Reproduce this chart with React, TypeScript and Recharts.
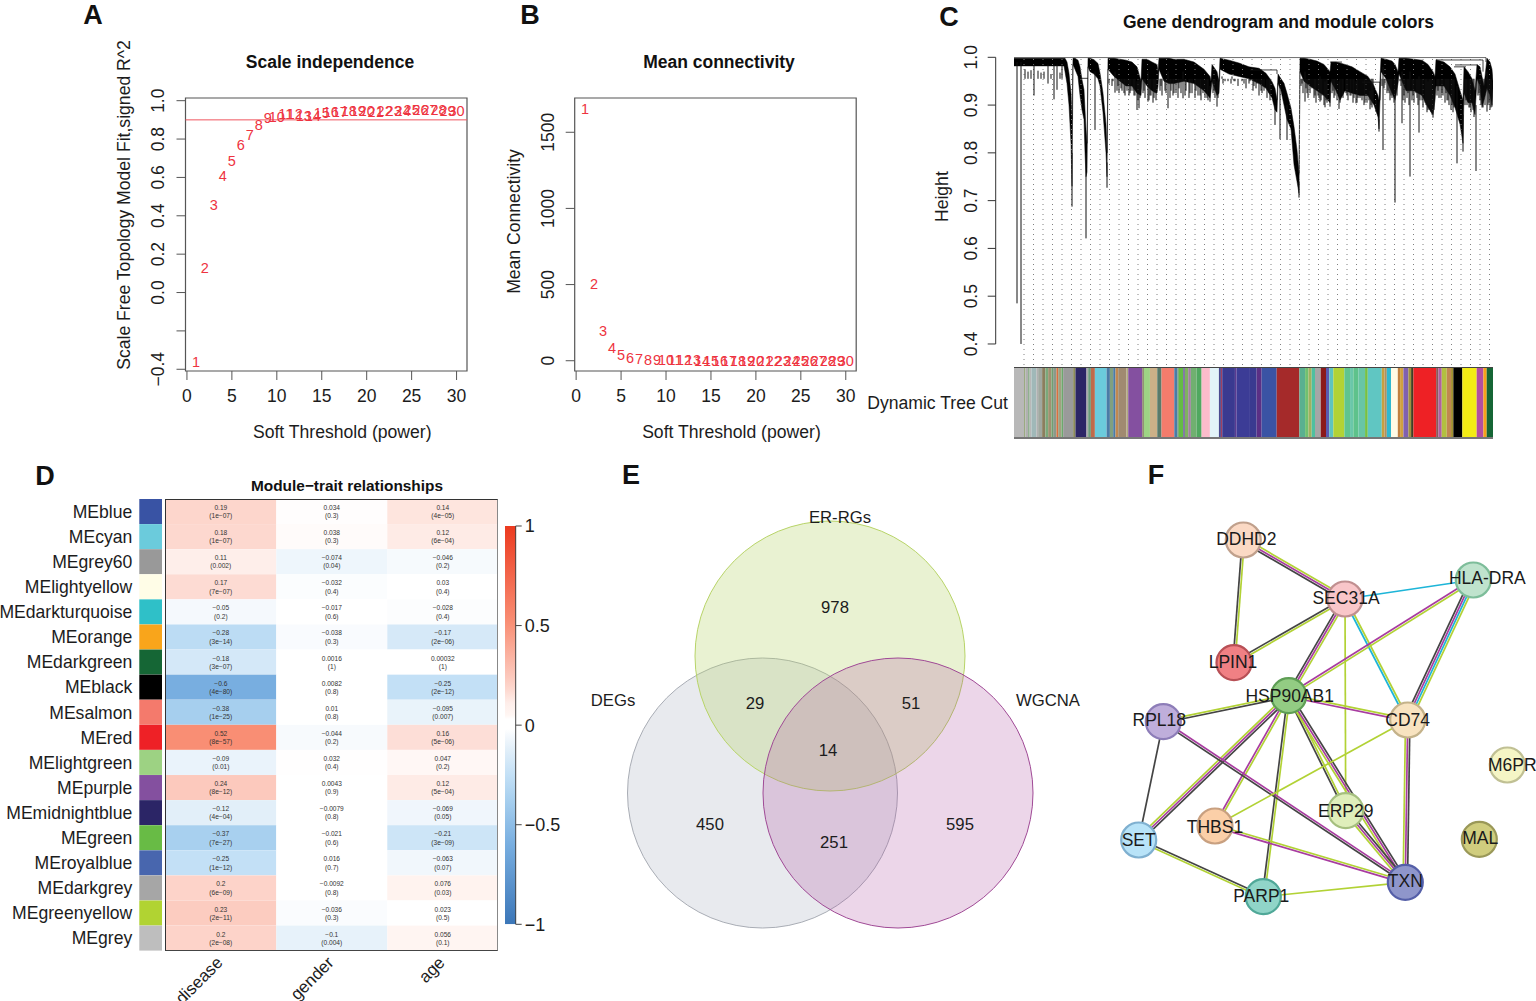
import React from 'react';
import {
  ScatterChart, Scatter, XAxis, YAxis, ReferenceLine, ReferenceArea, ComposedChart, Area, Line, BarChart, Bar,
} from 'recharts';

const FONT = '"Liberation Sans", Arial, sans-serif';
const RED = '#ee3340';
const AXIS = '#555';
const INK = '#1c1c1c';

// ---------- A / B ----------
const powers = [1,2,3,4,5,6,7,8,9,10,11,12,13,14,15,16,17,18,19,20,21,22,23,24,25,26,27,28,29,30];
const fitR2 = [-0.36,0.13,0.457,0.61,0.686,0.77,0.82,0.873,0.909,0.913,0.93,0.932,0.918,0.922,0.935,0.94,0.94,0.945,0.945,0.945,0.94,0.945,0.947,0.947,0.95,0.95,0.952,0.952,0.945,0.947];
const meanK = [1654,503,192,81,39,18,10,6,4,3,2,2,2,1,1,1,1,1,1,1,1,1,1,1,1,1,1,1,1,1];
const powerTicks = [0,5,10,15,20,25,30];
const fitTicks = [-0.4,-0.2,0,0.2,0.4,0.6,0.8,1];
const fitTickLabels = ['\u22120.4','','0.0','0.2','0.4','0.6','0.8','1.0'];
const kTicks = [0,500,1000,1500];

// ---------- C ----------
const dendroRows = [
[0,.998,.982],[50,.998,.982],
[51,.998,.97],[53,.99,.945],[55,.9665,.90],[57,.925,.82],[58,.87,.73],
[59,.998,.985],[61,.998,.975],[64,.994,.96],[66,.98,.92],[68,.953,.89],[70,.932,.87],[71,.89,.80],[72,.85,.75],[73,.82,.76],
[74,.998,.98],[76,.998,.97],[80,.995,.965],[84,.987,.955],[86,.967,.94],[89,.925,.885],[92,.86,.80],[93,.80,.75],
[94,.998,.975],[100,.998,.96],[106,.996,.95],[112,.994,.94],[118,.99,.94],[123,.98,.925],[127,.95,.92],
[128,.996,.955],[133,.996,.94],[138,.99,.93],[143,.985,.925],[144,.97,.94],
[145,.998,.975],[150,.998,.95],[155,.998,.945],[160,.996,.945],[170,.996,.95],[180,.99,.945],[190,.975,.93],[196,.96,.915],[197,.95,.93],
[198,.985,.95],[203,.97,.92],[205,.95,.925],
[206,.998,.975],[215,.994,.965],[225,.988,.96],[235,.98,.955],[245,.977,.945],[252,.9665,.935],[258,.949,.915],[261,.935,.89],[263,.911,.885],
[264,.965,.945],[267,.955,.93],[270,.9456,.90],[273,.9246,.87],[277,.8933,.85],[280,.855,.775],[283,.806,.74],[285,.757,.715],
[286,.998,.97],[290,.998,.95],[296,.996,.94],[303,.992,.93],[310,.985,.92],[316,.97,.905],
[317,.99,.95],[322,.99,.93],[326,.988,.91],[331,.985,.93],[338,.98,.925],[346,.97,.92],[354,.96,.92],[360,.94,.90],[364,.92,.875],[365,.91,.85],
[367,.998,.97],[372,.996,.955],[378,.992,.925],[381,.985,.91],[384,.97,.945],
[385,.998,.965],[392,.998,.93],[400,.996,.93],[408,.994,.92],[414,.985,.895],[419,.97,.88],[421,.96,.91],
[422,.995,.94],[430,.99,.94],[436,.98,.92],[441,.965,.895],[446,.93,.86],[449,.91,.82],
[450,.98,.925],[454,.97,.905],[458,.955,.905],[461,.93,.88],
[463,.985,.955],[466,.98,.94],[468,.96,.895],[470,.94,.91],
[473,.998,.935],[476,.99,.92],[478,.975,.90],[479,.95,.935],
];
const dendroData = dendroRows.map(([rank, top, low]) => ({ rank, range: [low, top] }));
const deepSpikes = [[3,.99,.485],[7,.99,.40],[20,.985,.92],[34,.985,.945],[40,.985,.912],[43,.985,.932],[48,.985,.955],[58,.80,.6875],[72,.80,.621],[81,.97,.848],[93,.78,.727],[101,.97,.926],[123,.95,.8898],[125,.95,.8933],[134,.97,.9072],[154,.97,.8933],[169,.97,.9142],[196,.94,.907],[203,.95,.8967],[261,.90,.8584],[266,.94,.8284],[273,.90,.827],[285,.74,.7064],[291,.97,.9072],[306,.96,.9072],[311,.95,.8953],[316,.93,.8967],[325,.95,.892],[342,.95,.9037],[356,.93,.8912],[362,.91,.886],[365,.87,.8445],[369,.98,.806],[381,.96,.696],[388,.97,.862],[396,.97,.7503],[405,.96,.8424],[414,.95,.8898],[419,.93,.8737],[443,.94,.778],[449,.88,.8026],[462,.90,.762],[473,.97,.8863],[478,.95,.8967]];
const fringeTips = [[11,.975],[14,.97],[17,.973],[24,.972],[27,.968],[30,.97],[37,.965],[46,.968],[96,.955],[99,.95],[104,.94],[107,.935],[110,.925],[113,.93],[116,.925],[119,.93],[121,.92],[126,.915],[130,.93],[136,.92],[140,.915],[141,.925],[147,.94],[151,.93],[157,.93],[160,.925],[165,.935],[172,.93],[176,.925],[182,.93],[186,.92],[189,.925],[193,.915],[200,.93],[204,.915],[208,.96],[212,.955],[218,.96],[221,.95],[226,.955],[230,.945],[236,.95],[240,.94],[243,.945],[248,.925],[250,.93],[255,.925],[288,.945],[293,.925],[298,.935],[301,.92],[305,.915],[308,.92],[313,.905],[319,.93],[321,.92],[328,.92],[333,.92],[336,.92],[340,.915],[344,.915],[348,.91],[351,.905],[358,.895],[371,.945],[375,.925],[377,.92],[386,.95],[390,.92],[394,.925],[399,.92],[402,.925],[408,.91],[411,.905],[416,.89],[424,.93],[428,.925],[432,.925],[434,.91],[438,.90],[440,.895],[452,.91],[456,.895],[459,.89],[465,.925],[467,.90],[469,.895],[475,.905],[477,.895],
[95,.945],[98,.94],[103,.93],[105,.925],[108,.93],[111,.92],[115,.92],[117,.93],[120,.92],[124,.91],[129,.925],[131,.915],[135,.91],[137,.92],[139,.905],[142,.91],[146,.93],[148,.92],[152,.925],[156,.915],[159,.92],[162,.925],[164,.915],[167,.925],[171,.92],[175,.915],[178,.925],[181,.915],[184,.92],[187,.91],[191,.915],[194,.91],[199,.925],[201,.915],[209,.945],[211,.95],[214,.95],[217,.945],[220,.95],[224,.94],[228,.95],[232,.935],[235,.945],[239,.93],[242,.935],[245,.92],[247,.93],[253,.915],[256,.91],[287,.94],[289,.925],[292,.935],[294,.915],[296,.925],[300,.915],[302,.905],[304,.92],[307,.91],[310,.9],[312,.91],[318,.925],[320,.915],[323,.91],[326,.905],[329,.915],[332,.925],[334,.91],[337,.92],[339,.905],[343,.905],[346,.915],[350,.9],[353,.905],[355,.91],[357,.9],[359,.905],[368,.94],[370,.935],[373,.925],[374,.93],[376,.91],[378,.915],[380,.905],[383,.92],[387,.94],[389,.91],[391,.905],[393,.915],[395,.9],[398,.91],[400,.905],[403,.915],[404,.9],[406,.91],[409,.895],[412,.9],[413,.885],[415,.9],[417,.885],[418,.88],[420,.89],[423,.92],[425,.915],[427,.915],[429,.92],[431,.905],[433,.91],[435,.9],[437,.89],[439,.885],[451,.9],[453,.9],[455,.895],[457,.885],[460,.875],[464,.92],[466,.91],[471,.9],[474,.9],[476,.89]];
const spikeLines = deepSpikes.flatMap(([rank, start, low]) => [{ rank, h: start }, { rank, h: low }, { rank, h: null }]);
const fringeLines = fringeTips.flatMap(([rank, low]) => [{ rank, h: .955 }, { rank, h: low }, { rank, h: null }]);
const linkPaths = [
  [[0,.9995],[472,.9995],[472,.99]],
  [[236,.9735],[263,.9735],[263,.965]],
  [[316,.99],[328,.99]],
  [[348,.948],[366,.948],[366,.91]],
  [[422,.9944],[469,.9944],[469,.97]],
  [[440,.98],[452,.98]],
  [[441,.984],[463,.984]],
  [[66,.956],[74,.956]],
];
const dendroLinks = linkPaths.flatMap((path) => [...path.map(([rank, h]) => ({ rank, h })), { rank: path[0][0], h: null }]);
const guideRanks = [10,19.5,29,38.5,48,57.5,67,76.5,86,95.5,105,114.5,124,133.5,143,152.5,162,171.5,181,190.5,200,209.5,219,228.5,238,247.5,257,266.5,276,285.5,295,304.5,314,323.5,333,342.5,352,361.5,371,380.5,390,399.5,409,418.5,428,437.5,447,456.5,466,475.5];
const heightTicks = [0.4,0.5,0.6,0.7,0.8,0.9,1];

const moduleSegColors = ['#b8b8b8','#9aab80','#b0b0b0','#8fb08f','#b8b8b8','#a0b8b8','#b0b0b0','#a0a8a0','#8b7e5e','#7aa87a','#a09070','#70a070','#8a9a8a','#d87040','#a0a080','#6da86d','#9a9a9a','#8a8a5a','#2c2566','#aaaaaa','#6a9a7a','#c06a4a','#6bcbdc','#4a7ba6','#80a080','#4a7ba6','#c08850','#a08a70','#b0a880','#8450a0','#8a8a6a','#9ed485','#ccb088','#5a7a6a','#f47c6c','#4a7ba6','#70a070','#65bb45','#7060a0','#80b060','#a080a0','#70b070','#50a860','#fbbccb','#e2f3f8','#4a4a90','#a04060','#3a3a90','#5a3a90','#3c3c96','#3a3a90','#5b2f85','#3a53a4','#a52a2a','#5ab090','#70c070','#a0b060','#4fc0a0','#a6a6a6','#8b1a1a','#5a5ab0','#5fc4be','#b2d235','#5fc48f','#6ac7a9','#5ec28b','#68c5a5','#77c043','#60c6c2','#c8a040','#b09060','#30b8d0','#fffbe6','#c08040','#d0a040','#8060b0','#a09040','#404020','#ee2125','#8a5a5a','#b060a0','#b2c040','#c08850','#a09030','#000000','#f3ec14','#b34fa0','#f7a11a','#156635'];
const moduleSegSizes = [10,1.3,2.7,1.7,1.7,5,1.7,4,3.3,2.7,3.3,1.7,3.3,1.7,3.3,1.7,10,2.3,11,1.7,2.7,4,11.7,3.3,3.3,2.3,2.7,8.3,1.7,14,1.7,6,7.3,4.3,12.7,3.3,1.3,4.3,1.7,3.3,2.7,5.7,5,8.3,9,2,1.3,12.7,1.7,13.3,6.7,5,15,22.7,5.7,3.3,3.3,3.3,5.7,5.3,3.3,4,11,5.7,3.3,5,6.7,2.7,14,2.7,2.3,4.3,6.7,2.3,3.3,5,2.7,2.3,22.7,2.3,3.3,5,4.3,2.3,9,14.3,6.7,3.3,6.7];
const moduleRow: any = { name: 'Dynamic Tree Cut' };
moduleSegSizes.forEach((s, i) => { moduleRow['s' + i] = s; });

// ---------- D ----------
const moduleNames = ['MEblue','MEcyan','MEgrey60','MElightyellow','MEdarkturquoise','MEorange','MEdarkgreen','MEblack','MEsalmon','MEred','MElightgreen','MEpurple','MEmidnightblue','MEgreen','MEroyalblue','MEdarkgrey','MEgreenyellow','MEgrey'];
const moduleSwatches = ['#3953a4','#6bcbdc','#999999','#fffde7','#2fc0c8','#f9a51b','#156635','#000000','#f47a6c','#ee2126','#9dd283','#84509f','#2b2566','#68bb45','#4866ae','#a6a6a6','#b1d332','#bebebe'];
const traits = ['disease','gender','age'];
const corDisease = [0.19,0.18,0.11,0.17,-0.05,-0.28,-0.18,-0.6,-0.38,0.52,-0.09,0.24,-0.12,-0.37,-0.25,0.2,0.23,0.2];
const pDisease = ['1e−07','1e−07','0.002','7e−07','0.2','3e−14','3e−07','4e−80','1e−25','8e−57','0.01','8e−12','4e−04','7e−27','1e−12','6e−09','2e−11','2e−08'];
const corGender = [0.034,0.038,-0.074,-0.032,-0.017,-0.038,0.0016,0.0082,0.01,-0.044,0.032,0.0043,-0.0079,-0.021,0.016,-0.0092,-0.036,-0.1];
const pGender = ['0.3','0.3','0.04','0.4','0.6','0.3','1','0.8','0.8','0.2','0.4','0.9','0.8','0.6','0.7','0.8','0.3','0.004'];
const corAge = [0.14,0.12,-0.046,0.03,-0.028,-0.17,0.00032,-0.25,-0.095,0.16,0.047,0.12,-0.069,-0.21,-0.063,0.076,0.023,0.056];
const pAge = ['4e−05','6e−04','0.2','0.4','0.4','2e−06','1','2e−12','0.007','5e−06','0.2','5e−04','0.05','3e−09','0.07','0.03','0.5','0.1'];
const heatRows = moduleNames.map((name, i) => ({
  name, swatch: 1, disease: 1, gender: 1, age: 1,
  cor: { disease: corDisease[i], gender: corGender[i], age: corAge[i] },
  p: { disease: pDisease[i], gender: pGender[i], age: pAge[i] },
  color: moduleSwatches[i],
}));
const colorStops: [number, string][] = [[-1,'#3b76b8'],[-0.6,'#78aee0'],[-0.37,'#a8d0ef'],[-0.25,'#c3e0f6'],[-0.12,'#e2eff9'],[-0.05,'#f5f9fd'],[-0.02,'#ffffff'],[0.03,'#ffffff'],[0.05,'#fff6f3'],[0.11,'#feeeea'],[0.18,'#fdd8cf'],[0.24,'#fcc9bd'],[0.52,'#f98e74'],[1,'#ec3a1f']];
const hex = (c: string) => [1,3,5].map((i) => parseInt(c.slice(i, i + 2), 16));
function corColor(v: number) {
  for (let i = 1; i < colorStops.length; i++) {
    if (v <= colorStops[i][0]) {
      const [a, ca] = colorStops[i - 1]; const [b, cb] = colorStops[i];
      const t = (v - a) / (b - a); const A = hex(ca); const B = hex(cb);
      return `rgb(${A.map((x, k) => Math.round(x + (B[k] - x) * t)).join(',')})`;
    }
  }
  return colorStops[colorStops.length - 1][1];
}
const legendTicks = [-1,-0.5,0,0.5,1];
const legendLabels = ['\u22121','\u22120.5','0','0.5','1'];

// ---------- E ----------
const vennSets = [
  { name: 'DEGs', x: 762.5, y: 793, fill: '#b4b9c6', fillOpacity: 0.3, stroke: '#a9adb5' },
  { name: 'ER-RGs', x: 830, y: 656, fill: '#b5d56a', fillOpacity: 0.3, stroke: '#b8d468' },
  { name: 'WGCNA', x: 898, y: 793, fill: '#a8449c', fillOpacity: 0.22, stroke: '#a04a96' },
];
const vennTexts = [
  { t: 'ER-RGs', x: 840, y: 517 }, { t: 'DEGs', x: 613, y: 700 }, { t: 'WGCNA', x: 1048, y: 700 },
  { t: '978', x: 835, y: 607 }, { t: '29', x: 755, y: 703 }, { t: '51', x: 911, y: 703 }, { t: '14', x: 828, y: 750 },
  { t: '450', x: 710, y: 824 }, { t: '595', x: 960, y: 824 }, { t: '251', x: 834, y: 842 },
];

// ---------- F ----------
const nodes = [
  { id: 'DDHD2', x: 1243.3, y: 540, fill: '#fbd9c4', stroke: '#c0a08c', dx: 3, dy: -1 },
  { id: 'SEC31A', x: 1345, y: 599, fill: '#f9c6c9', stroke: '#c08f90', dx: 1, dy: -1 },
  { id: 'HLA-DRA', x: 1473.3, y: 580, fill: '#bfe3cd', stroke: '#7dbd9a', dx: 14, dy: -2 },
  { id: 'LPIN1', x: 1234, y: 662.7, fill: '#f08084', stroke: '#b85056', dx: -1, dy: -1 },
  { id: 'RPL18', x: 1163.3, y: 721.7, fill: '#bfaedb', stroke: '#8d7db8', dx: -4, dy: -2 },
  { id: 'CD74', x: 1407.7, y: 720, fill: '#f8e3c0', stroke: '#c4b28a', dx: 0, dy: 0 },
  { id: 'M6PR', x: 1507.3, y: 765, fill: '#f5f5c5', stroke: '#c0c094', dx: 5, dy: 0 },
  { id: 'ERP29', x: 1345.7, y: 810.7, fill: '#dfeebb', stroke: '#a5bf7f', dx: 0, dy: 0 },
  { id: 'THBS1', x: 1215, y: 826, fill: '#fbcfa8', stroke: '#c8a080', dx: 0, dy: 1 },
  { id: 'SET', x: 1138.7, y: 840, fill: '#b8e3f8', stroke: '#7fb0d0', dx: 0, dy: 0 },
  { id: 'MAL', x: 1479.3, y: 839.3, fill: '#d0cd7e', stroke: '#9a9858', dx: 1, dy: -1 },
  { id: 'PARP1', x: 1263.3, y: 896.7, fill: '#90d5c8', stroke: '#50a898', dx: -2, dy: -1 },
  { id: 'TXN', x: 1405.3, y: 882.3, fill: '#8f96cb', stroke: '#555fa8', dx: 0, dy: -1 },
  { id: 'HSP90AB1', x: 1288.7, y: 695.7, fill: '#93cc83', stroke: '#5e9e55', dx: 1, dy: 0 },
];
const CH: Record<string, string> = { k: '#444444', m: '#a83ca0', g: '#b2d235', c: '#1db5d8' };
const edges: [string, string, string][] = [
  ['DDHD2','SEC31A','gmk'],['DDHD2','LPIN1','gk'],['SEC31A','LPIN1','gk'],['SEC31A','HLA-DRA','c'],
  ['SEC31A','HSP90AB1','gmk'],['SEC31A','CD74','gc'],['SEC31A','ERP29','g'],['HLA-DRA','HSP90AB1','gm'],
  ['HLA-DRA','CD74','gcmk'],['HSP90AB1','CD74','gm'],['HSP90AB1','RPL18','kg'],['HSP90AB1','SET','kmg'],
  ['HSP90AB1','THBS1','gm'],['HSP90AB1','PARP1','gk'],['HSP90AB1','ERP29','gk'],['HSP90AB1','TXN','kmg'],
  ['RPL18','SET','k'],['RPL18','TXN','mk'],['CD74','THBS1','g'],['CD74','TXN','kmg'],
  ['ERP29','TXN','kmg'],['THBS1','TXN','gm'],['SET','PARP1','kg'],['PARP1','TXN','g'],
];
const byId = Object.fromEntries(nodes.map((n) => [n.id, n]));
const edgeLines = edges.flatMap(([a, b, ch]) => {
  const A = byId[a]; const B = byId[b];
  const len = Math.hypot(B.x - A.x, B.y - A.y);
  const nx = -(B.y - A.y) / len; const ny = (B.x - A.x) / len;
  return ch.split('').map((c, i) => {
    const o = (i - (ch.length - 1) / 2) * 2.2;
    return { key: `${a}-${b}-${c}`, color: CH[c], pts: [{ x: A.x + nx * o, y: A.y + ny * o }, { x: B.x + nx * o, y: B.y + ny * o }] };
  });
});

// ---------- captions ----------
const captions = [
  { t: 'A', x: 93, y: 15, s: 27, b: true }, { t: 'B', x: 530, y: 15, s: 27, b: true }, { t: 'C', x: 949, y: 17, s: 27, b: true },
  { t: 'D', x: 45, y: 476, s: 27, b: true }, { t: 'E', x: 631, y: 475, s: 27, b: true }, { t: 'F', x: 1156, y: 475, s: 27, b: true },
  { t: 'Scale independence', x: 330, y: 63, s: 17.5, b: true }, { t: 'Mean connectivity', x: 719, y: 63, s: 17.5, b: true },
  { t: 'Gene dendrogram and module colors', x: 1278.5, y: 23, s: 17.5, b: true }, { t: 'Module\u2212trait relationships', x: 347, y: 486, s: 15.4, b: true },
];

const RotTick = (labelOf: (v: number) => string, size: number, shift: number) => (p: any) => {
  const x = p.x - shift; const y = p.y;
  return <text x={x} y={y} textAnchor="middle" fontSize={size} fill={INK} fontFamily={FONT} transform={`rotate(-90 ${x} ${y})`}>{labelOf(p.payload.value)}</text>;
};
const RedNum = (p: any) => (
  <text x={p.cx} y={p.cy} textAnchor="middle" dominantBaseline="central" fontSize={14.5} fill={RED} fontFamily={FONT}>{p.payload.x}</text>
);

function ThresholdChart({ left, yData, yDomain, yTicks, yLabelOf, yTitle, yTitleDy, axisW, rightM, hline }: any) {
  const data = powers.map((x, i) => ({ x, y: yData[i] }));
  return (
    <div style={{ position: 'absolute', left, top: 40 }}>
      <ScatterChart width={axisW + 281.5 + rightM} height={410} margin={{ top: 58, right: rightM, bottom: 0, left: 0 }}>
        <XAxis type="number" dataKey="x" domain={[-0.16, 31.16]} ticks={powerTicks} height={79} tickSize={9} axisLine={false} tickLine={{ stroke: AXIS }} tick={{ fontSize: 17.5, fill: INK, fontFamily: FONT }} tickMargin={10} allowDataOverflow
          label={{ value: 'Soft Threshold (power)', position: 'insideBottom', offset: 12, dx: 16, fontSize: 17.6, fill: INK, fontFamily: FONT }} />
        <YAxis type="number" dataKey="y" domain={yDomain} ticks={yTicks} width={axisW} tickSize={9} axisLine={false} tickLine={{ stroke: AXIS }} allowDataOverflow interval={0}
          tick={RotTick(yLabelOf, 17.5, 10)}
          label={{ value: yTitle, angle: -90, position: 'insideLeft', offset: 24, dy: yTitleDy, fontSize: 17.6, fill: INK, fontFamily: FONT, style: { textAnchor: 'middle' } }} />
        <ReferenceArea x1={-0.16} x2={31.16} y1={yDomain[0]} y2={yDomain[1]} fill="none" stroke={AXIS} strokeWidth={1.2} fillOpacity={0} />
        {hline !== undefined && <ReferenceLine y={hline} stroke="#f0555f" strokeWidth={1} />}
        <Scatter data={data} dataKey="y" shape={RedNum} isAnimationActive={false} />
      </ScatterChart>
    </div>
  );
}

const HeatCell = (trait: string) => (p: any) => {
  const row = p.payload; const v = row.cor[trait];
  const cx = p.x + p.width / 2; const cy = p.y + p.height / 2;
  const num = String(v).replace('-', '\u2212');
  return (
    <g>
      <rect x={p.x} y={p.y} width={p.width} height={p.height} fill={corColor(v)} />
      <text x={cx} y={cy - 1.5} textAnchor="middle" fontSize={6.6} fill="#333" fontFamily={FONT}>{num}</text>
      <text x={cx} y={cy + 6.8} textAnchor="middle" fontSize={6.6} fill="#333" fontFamily={FONT}>({row.p[trait]})</text>
    </g>
  );
};

const TraitTick = (p: any) => {
  const x = p.x + 3; const y = p.y + 5;
  return <text x={x} y={y} textAnchor="end" fontSize={17} fill={INK} fontFamily={FONT} transform={`rotate(-45 ${x} ${y})`}>{traits[Math.floor(p.payload.value)]}</text>;
};
const SwatchBar = (p: any) => <rect x={p.x} y={p.y} width={p.width} height={p.height} fill={p.payload.color} />;

const VennCircle = (p: any) => (
  <circle cx={p.cx} cy={p.cy} r={135} fill={p.payload.fill} fillOpacity={p.payload.fillOpacity} stroke={p.payload.stroke} strokeWidth={1} />
);
const VennText = (p: any) => (
  <text x={p.cx} y={p.cy} textAnchor="middle" dominantBaseline="central" fontSize={16.7} fill={INK} fontFamily={FONT}>{p.payload.t}</text>
);
const NodeMark = (p: any) => (
  <g>
    <circle cx={p.cx} cy={p.cy} r={17.5} fill={p.payload.fill} stroke={p.payload.stroke} strokeWidth={2.2} />
    <text x={p.cx + p.payload.dx} y={p.cy + p.payload.dy} textAnchor="middle" dominantBaseline="central" fontSize={17.5} fill="#1a1a1a" fontFamily={FONT}>{p.payload.id}</text>
  </g>
);

export default function App() {
  return (
    <div style={{ position: 'absolute', left: 0, top: 0, width: 1536, height: 1001, background: '#fff', overflow: 'hidden', fontFamily: FONT }}>
      <ThresholdChart left={100} yData={fitR2} yDomain={[-0.409, 1.014]} yTicks={fitTicks} axisW={85.5} rightM={13}
        yLabelOf={(v: number) => fitTickLabels[fitTicks.indexOf(v)]} yTitle="Scale Free Topology Model Fit,signed R^2" yTitleDy={-29.5} hline={0.9} />
      <ThresholdChart left={490} yData={meanK} yDomain={[-67.5, 1725]} yTicks={kTicks} axisW={84.7} rightM={13.3}
        yLabelOf={(v: number) => String(v)} yTitle="Mean Connectivity" yTitleDy={-13} />

      {/* C dendrogram */}
      <div style={{ position: 'absolute', left: 920, top: 40 }}>
        <ComposedChart width={573} height={325} data={dendroData} margin={{ top: 17.3, right: 0, bottom: 0, left: 0 }}>
          <XAxis type="number" dataKey="rank" domain={[-18.3, 479]} hide allowDataOverflow />
          <YAxis type="number" domain={[0.356, 1]} ticks={heightTicks} width={75.7} tickSize={8} axisLine={false} tickLine={{ stroke: '#333' }} interval={0} allowDataOverflow
            tick={RotTick((v: number) => v.toFixed(1), 17.5, 9)}
            label={{ value: 'Height', angle: -90, position: 'insideLeft', offset: 21.6, dy: -14.5, fontSize: 17.6, fill: INK, fontFamily: FONT, style: { textAnchor: 'middle' } }} />
          {guideRanks.map((r) => (
            <ReferenceLine key={r} x={r} stroke="#808080" strokeDasharray="1 4" strokeWidth={1} />
          ))}
          <ReferenceLine segment={[{ x: -18.3, y: 0.4 }, { x: -18.3, y: 1 }]} stroke="#333" strokeWidth={1} />
          <Area dataKey="range" type="linear" stroke="#000" strokeWidth={0.5} fill="#000" fillOpacity={1} dot={false} activeDot={false} isAnimationActive={false} />
          <Line data={fringeLines} dataKey="h" type="linear" stroke="#111" strokeWidth={1} dot={false} activeDot={false} connectNulls={false} isAnimationActive={false} />
          <Line data={spikeLines} dataKey="h" type="linear" stroke="#111" strokeWidth={1} dot={false} activeDot={false} connectNulls={false} isAnimationActive={false} />
          <Line data={dendroLinks} dataKey="h" type="linear" stroke="#111" strokeWidth={0.8} dot={false} activeDot={false} connectNulls={false} isAnimationActive={false} />
        </ComposedChart>
      </div>
      <div style={{ position: 'absolute', left: 860, top: 367 }}>
        <BarChart width={633} height={71} data={[moduleRow]} layout="vertical" barCategoryGap={0} margin={{ top: 0, right: 0, bottom: 0, left: 0 }}>
          <XAxis type="number" hide domain={[0, 478.5]} allowDataOverflow />
          <YAxis type="category" dataKey="name" width={154} axisLine={false} tickLine={false} tickSize={0} tickMargin={6} tick={{ fontSize: 17.6, fill: INK, fontFamily: FONT }} />
          {moduleSegColors.map((c, i) => (
            <Bar key={i} dataKey={'s' + i} stackId="m" fill={c} isAnimationActive={false} />
          ))}
        </BarChart>
      </div>
      <div style={{ position: 'absolute', left: 1014, top: 366.5, width: 479, height: 1, background: '#444' }} />
      <div style={{ position: 'absolute', left: 1014, top: 437, width: 479, height: 1.5, background: '#777' }} />

      {/* D heatmap */}
      <div style={{ position: 'absolute', left: 0, top: 499.3 }}>
        <BarChart width={162.3} height={451.7} data={heatRows} layout="vertical" barCategoryGap={0} margin={{ top: 0, right: 0, bottom: 0, left: 0 }}>
          <XAxis type="number" hide domain={[0, 1]} />
          <YAxis type="category" dataKey="name" width={139.3} interval={0} axisLine={false} tickLine={false} tickSize={0} tickMargin={7} tick={{ fontSize: 17.6, fill: INK, fontFamily: FONT }} />
          <Bar dataKey="swatch" shape={SwatchBar} isAnimationActive={false} />
        </BarChart>
      </div>
      <div style={{ position: 'absolute', left: 100, top: 499.3 }}>
        <BarChart width={398.3} height={501.7} data={heatRows} layout="vertical" barCategoryGap={0} margin={{ top: 0, right: 0, bottom: 0, left: 65.3 }}>
          <XAxis type="number" domain={[0, 3]} ticks={[0.5, 1.5, 2.5]} height={50} axisLine={false} tickLine={false} tick={TraitTick} interval={0} />
          <YAxis type="category" dataKey="name" hide />
          {traits.map((t) => (
            <Bar key={t} dataKey={t} stackId="h" shape={HeatCell(t)} isAnimationActive={false} />
          ))}
        </BarChart>
      </div>
      <div style={{ position: 'absolute', left: 165, top: 499, width: 333, height: 452, boxSizing: 'border-box', borderTop: '1.3px solid #333', borderLeft: '1.3px solid #333', borderBottom: '1.3px solid #444', borderRight: '1.6px solid #888' }} />
      <div style={{ position: 'absolute', left: 505, top: 514 }}>
        <BarChart width={66} height={422.3} data={[{ name: 'cor', range: [-1, 1] }]} barCategoryGap={0} margin={{ top: 12, right: 0, bottom: 12, left: 0 }}>
          <defs>
            <linearGradient id="corGrad" x1="0" y1="0" x2="0" y2="1">
              {colorStops.slice().reverse().map(([v, c]) => <stop key={v} offset={(1 - v) / 2} stopColor={c} />)}
            </linearGradient>
          </defs>
          <XAxis dataKey="name" hide />
          <YAxis orientation="right" type="number" domain={[-1, 1]} ticks={legendTicks} width={55.3} interval={0} tickSize={6} tickMargin={3} axisLine={{ stroke: '#444' }} tickLine={{ stroke: '#444' }} allowDataOverflow
            tickFormatter={(v: number) => legendLabels[legendTicks.indexOf(v)]} tick={{ fontSize: 18, fill: INK, fontFamily: FONT }} />
          <Bar dataKey="range" fill="url(#corGrad)" isAnimationActive={false} />
        </BarChart>
      </div>

      {/* E venn */}
      <div style={{ position: 'absolute', left: 570, top: 500 }}>
        <ScatterChart width={520} height={450} margin={{ top: 0, right: 0, bottom: 0, left: 0 }}>
          <XAxis type="number" dataKey="x" domain={[570, 1090]} hide />
          <YAxis type="number" dataKey="y" domain={[500, 950]} reversed hide />
          <Scatter data={vennSets} shape={VennCircle} isAnimationActive={false} />
          <Scatter data={vennTexts} shape={VennText} isAnimationActive={false} />
        </ScatterChart>
      </div>

      {/* F network */}
      <div style={{ position: 'absolute', left: 1100, top: 500 }}>
        <ScatterChart width={436} height={430} margin={{ top: 0, right: 0, bottom: 0, left: 0 }}>
          <XAxis type="number" dataKey="x" domain={[1100, 1536]} hide />
          <YAxis type="number" dataKey="y" domain={[500, 930]} reversed hide />
          {edgeLines.map((e) => (
            <Scatter key={e.key} data={e.pts} line={{ stroke: e.color, strokeWidth: 1.7 }} shape={() => null} isAnimationActive={false} />
          ))}
          <Scatter data={nodes} shape={NodeMark} isAnimationActive={false} />
        </ScatterChart>
      </div>

      {captions.map((c) => (
        <div key={c.t} style={{ position: 'absolute', left: c.x, top: c.y, transform: 'translate(-50%,-50%)', fontSize: c.s, fontWeight: c.b ? 700 : 400, color: '#111', whiteSpace: 'nowrap', lineHeight: 1 }}>{c.t}</div>
      ))}
    </div>
  );
}
